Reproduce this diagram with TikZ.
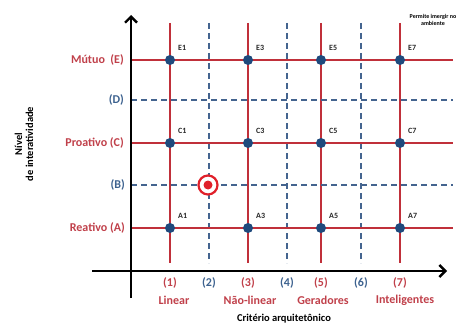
\documentclass[tikz,border=0pt]{standalone}
\usepackage{fontspec}
\setmainfont{Carlito}
\usetikzlibrary{arrows.meta}
\definecolor{gred}{HTML}{C0303A}
\definecolor{tred}{HTML}{C0404A}
\definecolor{gblue}{HTML}{1F4A7D}
\definecolor{dblue}{HTML}{44648F}
\definecolor{tblue}{HTML}{3D628F}
\definecolor{tgt}{HTML}{E0202A}
\tikzset{
  redline/.style={draw=gred, line width=1.5pt},
  dashline/.style={draw=dblue, line width=1.1pt, dash pattern=on 6pt off 4pt},
  axis/.style={draw=black, line width=2.4pt},
  dot/.style={circle, fill=gblue, inner sep=0pt, minimum width=9.5pt, minimum height=10pt},
  ptlabel/.style={font=\bfseries\fontsize{8}{9}\selectfont, text=black!85, inner sep=0pt},
  levred/.style={font=\bfseries\fontsize{12}{13}\selectfont, text=tred, anchor=east, inner sep=0pt},
  levblue/.style={font=\bfseries\fontsize{12}{13}\selectfont, text=tblue, anchor=east, inner sep=0pt},
  colred/.style={font=\bfseries\fontsize{12}{13}\selectfont, text=tred, inner sep=0pt},
  colblue/.style={font=\bfseries\fontsize{12}{13}\selectfont, text=tblue, inner sep=0pt},
  axtitle/.style={font=\bfseries\fontsize{10.5}{11}\selectfont, text=black, inner sep=0pt, align=center},
}
\begin{document}
\begin{tikzpicture}[x=1pt,y=-1pt]
\useasboundingbox (0,0) rectangle (465,326);
% coordinates
\coordinate (yb) at (131,298);
\coordinate (yt) at (131,15);
\coordinate (xl) at (92,271);
\coordinate (xr) at (447,271);
% vertical grid lines
\foreach \n/\x in {1/170,3/248,5/321,7/400}{
  \coordinate (vt\n) at (\x,23);
  \coordinate (vb\n) at (\x,263);
  \draw[redline] (vt\n) -- (vb\n);
}
\foreach \n/\x in {2/209,4/287,6/361}{
  \coordinate (vt\n) at (\x,23);
  \coordinate (vb\n) at (\x,263);
  \draw[dashline] (vt\n) -- (vb\n);
}
% horizontal grid lines
\foreach \n/\y in {E/60,C/143,A/228}{
  \coordinate (hl\n) at (131,\y);
  \coordinate (hr\n) at (453,\y);
  \draw[redline] (hl\n) -- (hr\n);
}
\foreach \n/\y in {D/100,B/185}{
  \coordinate (hl\n) at (131,\y);
  \coordinate (hr\n) at (453,\y);
  \draw[dashline] (hl\n) -- (hr\n);
}
% axes
\draw[axis, -{Straight Barb[length=6pt,width=12pt,line width=2.4pt]}] (yb) -- (yt);
\draw[axis, -{Straight Barb[length=6pt,width=12pt,line width=2.4pt]}] (xl) -- (xr);
% dots and labels
\foreach \r/\y in {E/60,C/143,A/228}{
  \foreach \c/\x in {1/170,3/248,5/321,7/400}{
    \node[dot] (d\r\c) at (\x,\y) {};
    \node[ptlabel, anchor=west] (l\r\c) at (\x+8,\y-12) {\r\c};
  }
}
% target
\node[circle, draw=tgt, line width=2.2pt, fill=white, minimum size=19pt, inner sep=0pt] (tgt) at (208,185) {};
\node[circle, fill=tgt, minimum size=9pt, inner sep=0pt] (tgtc) at (208,185) {};
% level labels
\node[levred] (lE) at (124,60) {Mútuo\ \ (E)};
\node[levblue] (lD) at (124,100) {(D)};
\node[levred] (lC) at (124,143) {Proativo (C)};
\node[levblue] (lB) at (125,185) {(B)};
\node[levred] (lA) at (125,228) {Reativo (A)};
% column labels
\node[colred] (c1) at (170,283) {(1)};
\node[colblue] (c2) at (209,283) {(2)};
\node[colred] (c3) at (248,283) {(3)};
\node[colblue] (c4) at (287,283) {(4)};
\node[colred] (c5) at (321,283) {(5)};
\node[colblue] (c6) at (361,283) {(6)};
\node[colred] (c7) at (400,283) {(7)};
\node[colred] (n1) at (174,300) {Linear};
\node[colred] (n3) at (250,300) {Não-linear};
\node[colred] (n5) at (323,300) {Geradores};
\node[colred] (n7) at (405,300) {Inteligentes};
% axis titles
\node[axtitle] (xt) at (284,319) {Critério arquitetônico};
\node[axtitle, rotate=90] (yt2) at (24,144) {Nível\\de interatividade};
\node[font=\bfseries\fontsize{6}{7}\selectfont, align=center, inner sep=0pt] (perm) at (433,20) {Permite imergir no\\ambiente};
\end{tikzpicture}
\end{document}
